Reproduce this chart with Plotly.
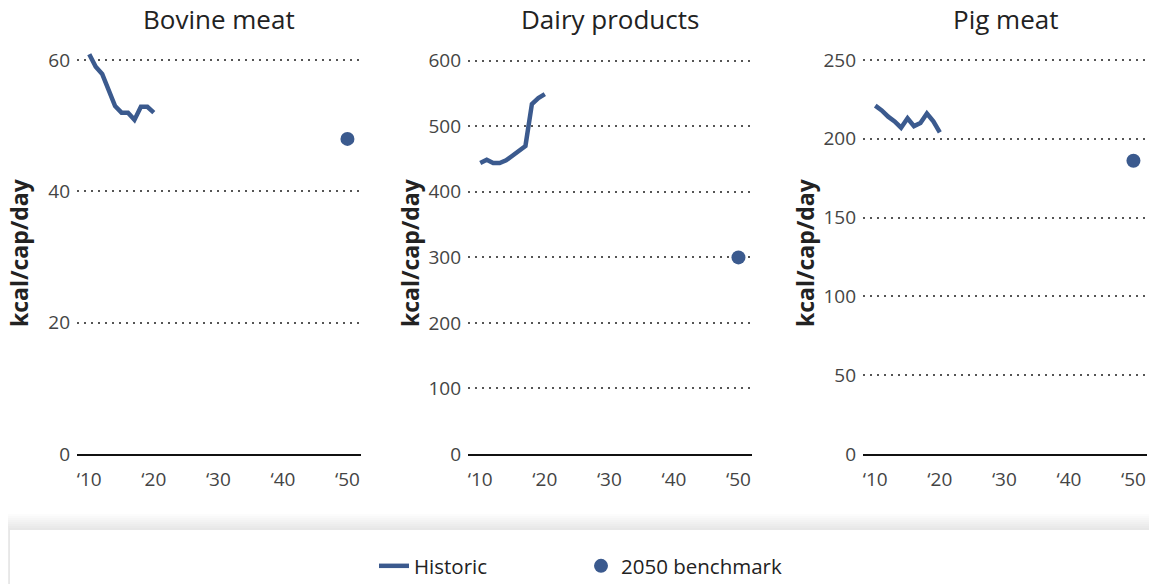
import plotly.graph_objects as go

# Data
years = list(range(2010, 2021))
bovine_hist = [60.9, 59.0, 57.9, 55.2, 53.0, 52.0, 52.0, 50.9, 52.9, 52.9, 52.0]
dairy_hist = [444, 449, 444, 444, 448, 455, 462, 470, 534, 543, 549]
pig_hist = [221, 218, 214, 211, 207, 213, 208, 210, 216, 211, 204]

benchmark_year = [2050]
bovine_2050 = [48]
dairy_2050 = [300]
pig_2050 = [186]

panel_titles = ["Bovine meat", "Dairy products", "Pig meat"]
y_tickvals = [
    [0, 20, 40, 60],
    [0, 100, 200, 300, 400, 500, 600],
    [0, 50, 100, 150, 200, 250],
]
y_tops = [62, 621, 258.2]
x_tickvals = [2010, 2020, 2030, 2040, 2050]
x_ticktext = ["\u201810", "\u201820", "\u201830", "\u201840", "\u201850"]

# the page body adds an 8px margin, so the figure is drawn offset by 8px
OFF = 8
W, H = 1157 - 2 * OFF, 600
BLUE = "#3b5a8e"
FONT = "Open Sans"


def px(x):
    return (x - OFF) / W


def py(y):
    return 1 - (y - OFF) / H


# panel pixel extents (left, right) in page coordinates
panels_px = [(77, 361), (468, 752), (863, 1147)]
y_dom = [py(454), py(47)]

hist_series = [bovine_hist, dairy_hist, pig_hist]
bench_series = [bovine_2050, dairy_2050, pig_2050]

fig = go.Figure()

for i in range(3):
    ax = "" if i == 0 else str(i + 1)
    fig.add_trace(go.Scatter(
        x=years, y=hist_series[i], mode="lines",
        line=dict(color=BLUE, width=4.5),
        name="Historic", legendgroup="hist", showlegend=(i == 0),
        xaxis="x" + ax, yaxis="y" + ax,
    ))
    fig.add_trace(go.Scatter(
        x=benchmark_year, y=bench_series[i], mode="markers",
        marker=dict(color=BLUE, size=14),
        name="2050 benchmark", legendgroup="bench", showlegend=(i == 0),
        xaxis="x" + ax, yaxis="y" + ax,
    ))

layout = dict(
    width=W, height=H,
    margin=dict(l=0, r=0, t=0, b=0, autoexpand=False),
    paper_bgcolor="white", plot_bgcolor="white",
    font=dict(family=FONT, color="#333"),
    showlegend=True,
    legend=dict(
        orientation="h", x=px(374), xanchor="left", y=py(566), yanchor="middle",
        font=dict(size=20.5, color="#222", family=FONT),
        bgcolor="rgba(0,0,0,0)", entrywidth=162, traceorder="normal",
    ),
)

annotations = []
for i in range(3):
    ax = "" if i == 0 else str(i + 1)
    l, r = panels_px[i]
    layout["xaxis" + ax] = dict(
        domain=[px(l), px(r)], range=[2008.1, 2052.1],
        tickvals=x_tickvals, ticktext=x_ticktext,
        showgrid=False, zeroline=False,
        showline=True, linecolor="#111", linewidth=2,
        tickfont=dict(size=19, color="#444"),
        ticklabelstandoff=7,
        anchor="y" + ax, fixedrange=True,
    )
    layout["yaxis" + ax] = dict(
        domain=y_dom, range=[0, y_tops[i]],
        tickvals=y_tickvals[i],
        showgrid=True, gridcolor="#555", gridwidth=1.5, griddash="2px,5px",
        zeroline=False, showline=False,
        tickfont=dict(size=19, color="#444"),
        ticklabelstandoff=6,
        anchor="x" + ax, fixedrange=True,
    )
    annotations.append(dict(
        text=panel_titles[i], x=px((l + r) / 2), y=py(19),
        xref="paper", yref="paper", showarrow=False,
        xanchor="center", yanchor="middle",
        font=dict(size=26, color="#222", family=FONT),
    ))
    annotations.append(dict(
        text="<b>kcal/cap/day</b>", x=px(l - 58), y=py(253),
        xref="paper", yref="paper", showarrow=False, textangle=-90,
        xanchor="center", yanchor="middle",
        font=dict(size=23, color="#222", family=FONT),
    ))
layout["annotations"] = annotations

# legend box with soft shadow
shapes = []
for k in range(8, 0, -1):
    g = k * 2
    shapes.append(dict(
        type="rect", xref="paper", yref="paper", layer="below",
        x0=px(10 - g * 0.6), x1=px(1149 + g * 0.6), y0=py(610), y1=py(530 - g),
        line=dict(width=0), fillcolor="rgba(0,0,0,0.012)",
    ))
shapes.append(dict(
    type="rect", xref="paper", yref="paper", layer="below",
    x0=px(10), x1=px(1149), y0=py(610), y1=py(530),
    line=dict(width=0), fillcolor="white",
))
layout["shapes"] = shapes

fig.update_layout(**layout)
fig.write_html("out.html")
